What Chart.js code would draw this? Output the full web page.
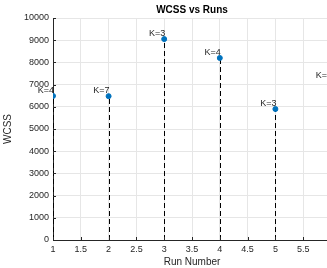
<!DOCTYPE html>
<html>
<head>
<meta charset="utf-8">
<script src="https://cdn.jsdelivr.net/npm/chart.js@4"></script>
<style>
  html, body { margin: 0; padding: 0; background: #fff; overflow: hidden; }
  #wrap { width: 327px; height: 268px; overflow: hidden; }
  #box { width: 345px; height: 268px; }
</style>
</head>
<body>
<div id="wrap"><div id="box"><canvas id="wcssChart"></canvas></div></div>
<script>
// run number vs WCSS, with the chosen K for each run
const runs = [1, 2, 3, 4, 5, 6];
const wcss = [6490, 6480, 9050, 8200, 5900, 7150];
const kLabels = ['K=4', 'K=7', 'K=3', 'K=4', 'K=3', 'K=5'];
const yTicks = [0, 1000, 2000, 3000, 4000, 5000, 6000, 7000, 8000, 9000, 10000];

const fontFamily = 'Liberation Sans, Arial, Helvetica, sans-serif';

// dashed stems from zero up to each point + K labels + title over plot area
const stemPlugin = {
    id: 'stems',
    beforeDatasetsDraw(chart) {
        const ctx = chart.ctx;
        const xs = chart.scales.x, ys = chart.scales.y;
        ctx.save();
        ctx.strokeStyle = '#000';
        ctx.lineWidth = 1;
        ctx.setLineDash([5, 3]);
        runs.forEach((r, i) => {
            const px = Math.round(xs.getPixelForValue(r)) + 0.5;
            ctx.beginPath();
            ctx.moveTo(px, ys.getPixelForValue(0));
            ctx.lineTo(px, ys.getPixelForValue(wcss[i]));
            ctx.stroke();
        });
        ctx.restore();
    },
    afterDatasetsDraw(chart) {
        const ctx = chart.ctx;
        const xs = chart.scales.x, ys = chart.scales.y;
        const area = chart.chartArea;
        ctx.save();
        // tick marks pointing inward, like MATLAB
        ctx.strokeStyle = '#262626';
        ctx.lineWidth = 1;
        xs.ticks.forEach(t => {
            const px = Math.round(xs.getPixelForValue(t.value)) + 0.5;
            ctx.beginPath();
            ctx.moveTo(px, area.bottom);
            ctx.lineTo(px, area.bottom - 3);
            ctx.stroke();
        });
        ys.ticks.forEach(t => {
            const py = Math.round(ys.getPixelForValue(t.value)) + 0.5;
            ctx.beginPath();
            ctx.moveTo(area.left, py);
            ctx.lineTo(area.left + 3, py);
            ctx.stroke();
        });
        ctx.fillStyle = '#262626';
        ctx.font = '9px ' + fontFamily;
        ctx.textAlign = 'right';
        ctx.textBaseline = 'bottom';
        runs.forEach((r, i) => {
            ctx.fillText(kLabels[i], xs.getPixelForValue(r) + 1, ys.getPixelForValue(wcss[i]) - 1);
        });
        ctx.font = 'bold 10px ' + fontFamily;
        ctx.fillStyle = '#000';
        ctx.textAlign = 'center';
        ctx.textBaseline = 'middle';
        ctx.fillText('WCSS vs Runs', (area.left + area.right) / 2, 10);
        ctx.restore();
    }
};

const ctx = document.getElementById('wcssChart').getContext('2d');
new Chart(ctx, {
    type: 'scatter',
    data: {
        datasets: [{
            label: 'WCSS',
            data: runs.map((r, i) => ({ x: r, y: wcss[i] })),
            backgroundColor: '#0072BD',
            borderColor: '#0072BD',
            pointRadius: 2.5,
            pointHoverRadius: 2.5
        }]
    },
    options: {
        responsive: true,
        maintainAspectRatio: false,
        animation: false,
        events: [],
        layout: { padding: { top: 18, right: 14, left: 0, bottom: 0 } },
        plugins: {
            legend: { display: false },
            tooltip: { enabled: false }
        },
        scales: {
            x: {
                type: 'linear',
                min: 1,
                max: 6,
                afterBuildTicks: scale => {
                    scale.ticks = [1, 1.5, 2, 2.5, 3, 3.5, 4, 4.5, 5, 5.5, 6].map(v => ({ value: v }));
                },
                afterFit: scale => { scale.height = 28; },
                grid: { color: '#e6e6e6', drawTicks: false },
                border: { color: '#262626', width: 1 },
                ticks: {
                    color: '#262626',
                    font: { size: 9, family: fontFamily },
                    padding: 4,
                    maxRotation: 0,
                    callback: v => String(v)
                },
                title: {
                    display: true,
                    text: 'Run Number',
                    color: '#262626',
                    font: { size: 10, family: fontFamily },
                    padding: { top: 1, bottom: 0 }
                }
            },
            y: {
                min: 0,
                max: 10000,
                afterBuildTicks: scale => {
                    scale.ticks = yTicks.map(v => ({ value: v }));
                },
                afterFit: scale => { scale.width = 53; },
                grid: { color: '#e6e6e6', drawTicks: false },
                border: { color: '#262626', width: 1 },
                ticks: {
                    color: '#262626',
                    font: { size: 9, family: fontFamily },
                    padding: 4,
                    callback: v => String(v)
                },
                title: {
                    display: true,
                    text: 'WCSS',
                    color: '#262626',
                    font: { size: 10, family: fontFamily },
                    padding: { top: 2, bottom: 6 }
                }
            }
        }
    },
    plugins: [stemPlugin]
});
</script>
</body>
</html>
